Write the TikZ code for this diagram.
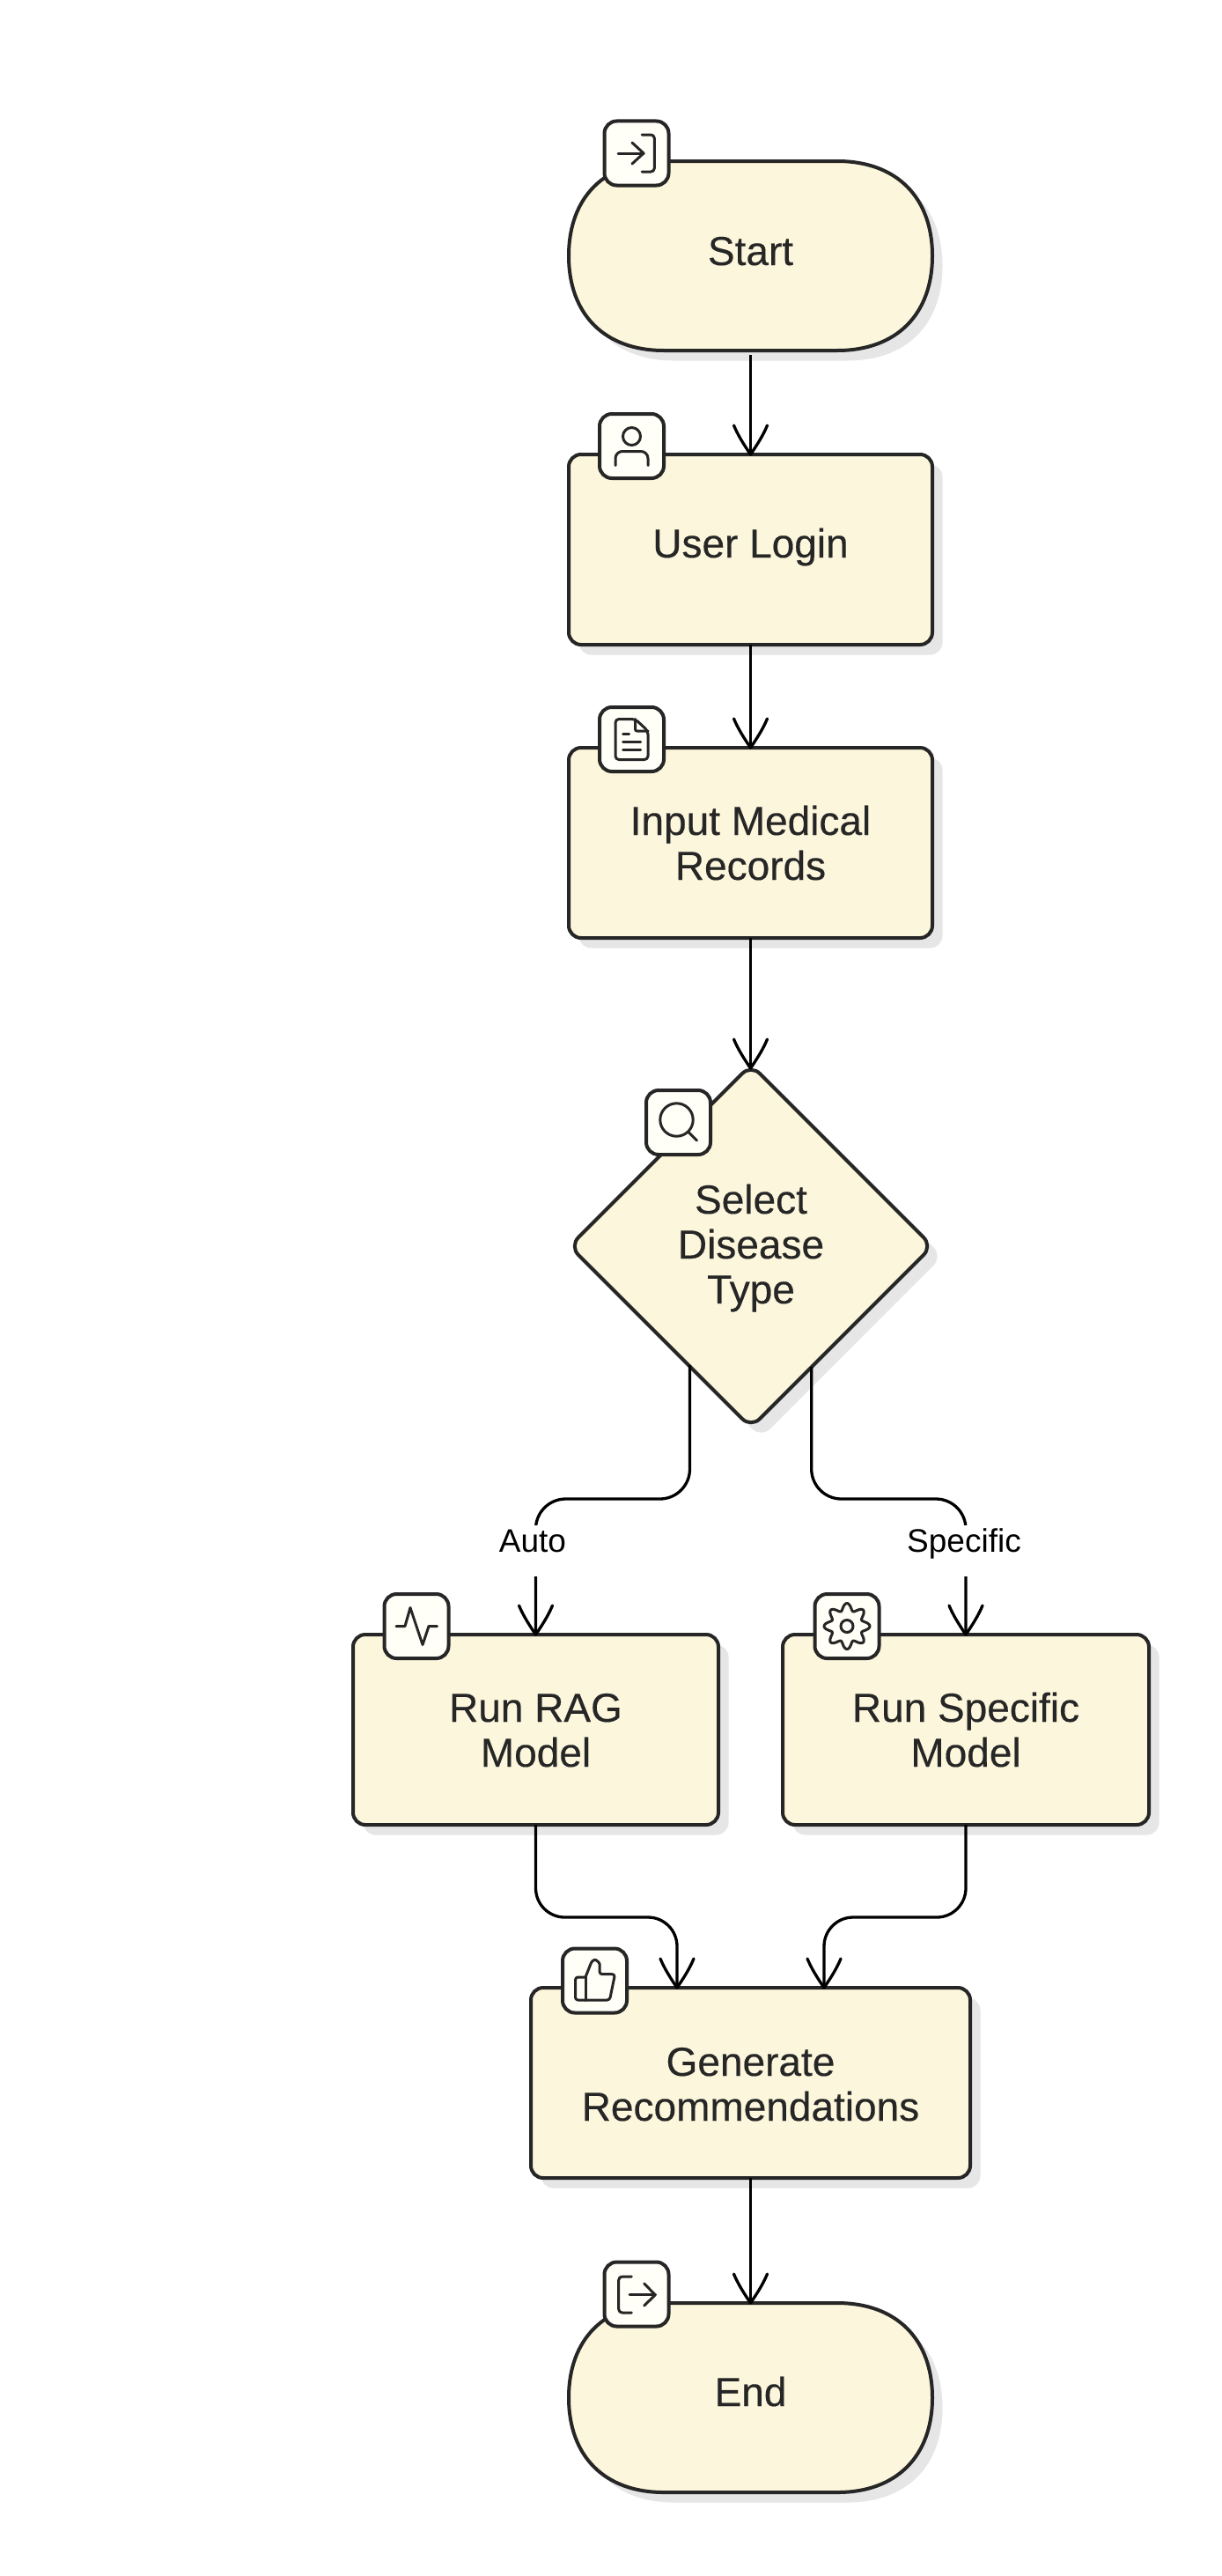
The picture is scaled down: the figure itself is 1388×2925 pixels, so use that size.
\documentclass[tikz,border=0pt]{standalone}
\usepackage{fontspec}
\setmainfont{Liberation Sans}
\newfontface\nodeface{Liberation Sans}[RawFeature={embolden=0.3}]
\usetikzlibrary{arrows.meta,shapes.geometric,shadows,calc}
\definecolor{boxfill}{HTML}{FCF6DC}
\definecolor{iconfill}{HTML}{FFFEF7}
\definecolor{inkc}{HTML}{262626}
\definecolor{shadec}{HTML}{E6E6E6}
\pgfdeclarearrow{
  name=OpenVee,
  setup code={
    \pgfarrowssettipend{0pt}
    \pgfarrowssetlineend{-1pt}
    \pgfarrowssetvisualbackend{-33pt}
    \pgfarrowssetbackend{-33pt}
    \pgfarrowshullpoint{0pt}{0pt}
    \pgfarrowshullpoint{-33pt}{19pt}
    \pgfarrowshullpoint{-33pt}{-19pt}
  },
  drawing code={
    \pgfsetlinewidth{3.3pt}
    \pgfsetdash{}{0pt}
    \pgfsetroundcap
    \pgfsetroundjoin
    \pgfpathmoveto{\pgfpoint{-33pt}{19pt}}
    \pgfpathcurveto{\pgfpoint{-22pt}{14.5pt}}{\pgfpoint{-11pt}{7.5pt}}{\pgfpointorigin}
    \pgfpathcurveto{\pgfpoint{-11pt}{-7.5pt}}{\pgfpoint{-22pt}{-14.5pt}}{\pgfpoint{-33pt}{-19pt}}
    \pgfusepathqstroke
  }
}
\tikzset{
  boxnode/.style={rectangle,draw=inkc,fill=boxfill,line width=4pt,rounded corners=14pt,
    minimum width=#1,minimum height=216pt,inner sep=0pt,outer sep=0pt,
    general shadow={shadow xshift=11.5pt,shadow yshift=-11.5pt,fill=shadec}},
  decnode/.style={diamond,aspect=1,draw=inkc,fill=boxfill,line width=4pt,rounded corners=14pt,
    minimum width=412pt,minimum height=412pt,inner sep=0pt,outer sep=0pt,
    general shadow={shadow xshift=11.5pt,shadow yshift=-11.5pt,fill=shadec}},
  termnode/.style={rectangle,minimum width=413pt,minimum height=215pt,inner sep=0pt,outer sep=0pt},
  termline/.style={draw=inkc,fill=boxfill,line width=4pt},
  iconbox/.style={rectangle,draw=inkc,fill=iconfill,line width=4pt,rounded corners=14pt,
    minimum width=73pt,minimum height=73pt,inner sep=0pt,outer sep=0pt},
  glyph/.style={draw=inkc,line width=3pt,line cap=round,line join=round},
  conn/.style={draw=black,line width=3.3pt,-OpenVee},
  txt/.style={text=inkc,font=\nodeface\fontsize{46}{51}\selectfont,align=center,inner sep=0pt,outer sep=0pt},
  edgelabel/.style={text=black,fill=white,font=\fontsize{37}{40}\selectfont,inner sep=0pt,outer sep=0pt,inner xsep=3pt}
}
\def\termpath{(-98.5,-107.5) -- (98.5,-107.5)
  .. controls (165.5,-107.5) and (206.5,-66.7) .. (206.5,0)
  .. controls (206.5,66.7) and (165.5,107.5) .. (98.5,107.5)
  -- (-98.5,107.5)
  .. controls (-165.5,107.5) and (-206.5,66.7) .. (-206.5,0)
  .. controls (-206.5,-66.7) and (-165.5,-107.5) .. (-98.5,-107.5) -- cycle}
\begin{document}
\begin{tikzpicture}[x=1pt,y=-1pt]
\useasboundingbox (0,0) rectangle (1388,2925);
\fill[white] (0,0) rectangle (1388,2925);

% terminator outlines
\begin{scope}[shift={(852.5,290.5)}]
  \fill[shadec,shift={(11.5,11.5)}] \termpath;
  \path[termline] \termpath;
\end{scope}
\begin{scope}[shift={(852.5,2722.5)}]
  \fill[shadec,shift={(11.5,11.5)}] \termpath;
  \path[termline] \termpath;
\end{scope}

% nodes
\node[termnode] (start) at (852.5,290.5) {};
\node[boxnode=413pt] (login) at (852.5,624) {};
\node[boxnode=413pt] (input) at (852.5,957) {};
\node[decnode] (dec) at (853,1415) {};
\node[boxnode=415pt] (rag) at (608.5,1964) {};
\node[boxnode=416pt] (spec) at (1097,1964) {};
\node[boxnode=499pt] (gen) at (852.5,2365) {};
\node[termnode] (end) at (852.5,2722.5) {};

% connector ends
\coordinate (decL) at (783.5,1550);
\coordinate (decR) at (921.7,1552);
\coordinate (splitY) at (852.5,1702);
\coordinate (mergeY) at (852.5,2177);
\coordinate (genL) at (769,2257);
\coordinate (genR) at (936,2257);

% connectors
\draw[conn,shorten <=5pt] (start.south) -- (login.north);
\draw[conn] (login.south) -- (input.north);
\draw[conn] (input.south) -- (852.5,1213);
\draw[conn,rounded corners=34pt] (decL) -- (decL |- splitY) -- (rag.north |- splitY) -- (rag.north);
\draw[conn,rounded corners=34pt] (decR) -- (decR |- splitY) -- (spec.north |- splitY) -- (spec.north);
\draw[conn,rounded corners=33pt] (rag.south) -- (rag.south |- mergeY) -- (genL |- mergeY) -- (genL);
\draw[conn,rounded corners=33pt] (spec.south) -- (spec.south |- mergeY) -- (genR |- mergeY) -- (genR);
\draw[conn] (gen.south) -- (end.north);

% edge labels
\node[edgelabel,text height=30pt,text depth=28pt,anchor=base] (lauto) at (605,1762) {Auto};
\node[edgelabel,text height=30pt,text depth=28pt,anchor=base] (lspec) at (1095,1762) {Specific};

% texts (anchor=base is the last line's baseline)
\node[txt,anchor=base] (tstart) at (852.5,301) {Start};
\node[txt,anchor=base] (tlogin) at (852.5,633) {User Login};
\node[txt,anchor=base] (tinput) at (852.5,999) {Input Medical\\Records};
\node[txt,anchor=base] (tdec) at (853,1480) {Select\\Disease\\Type};
\node[txt,anchor=base] (trag) at (608.5,2006) {Run RAG\\Model};
\node[txt,anchor=base] (tspec) at (1097,2006) {Run Specific\\Model};
\node[txt,anchor=base] (tgen) at (852.5,2408) {Generate\\Recommendations};
\node[txt,anchor=base] (tend) at (852.5,2732) {End};

% icons
\node[iconbox] (istart) at (723,174) {};
\begin{scope}[shift={(723,174)}]
  \draw[glyph] (-21,0) -- (8,0);
  \draw[glyph] (-5,-12) -- (8,0) -- (-5,12);
  \draw[glyph,rounded corners=4pt] (6,-21) -- (20.3,-21) -- (20.3,21) -- (6,21);
\end{scope}
\node[iconbox] (ilogin) at (717.5,506.5) {};
\begin{scope}[shift={(717.5,506.5)}]
  \draw[glyph] (0,-11) circle (10);
  \draw[glyph,rounded corners=8pt] (-18.5,22) -- (-18.5,6) -- (18.5,6) -- (18.5,22);
\end{scope}
\node[iconbox] (iinput) at (717.5,839.5) {};
\begin{scope}[shift={(717.5,839.5)}]
  \draw[glyph,rounded corners=4pt] (4,-23) -- (-18.5,-23) -- (-18.5,23) -- (18.5,23) -- (18.5,-9.5) -- cycle;
  \draw[glyph,rounded corners=2pt] (4,-23) -- (4,-9.5) -- (18.5,-9.5);
  \draw[glyph] (-10,-6) -- (-3,-6);
  \draw[glyph] (-10,3) -- (10,3);
  \draw[glyph] (-10,12) -- (10,12);
\end{scope}
\node[iconbox] (idec) at (770.5,1274.5) {};
\begin{scope}[shift={(770.5,1274.5)}]
  \draw[glyph] (-2,-3) circle (18.7);
  \draw[glyph] (12,11.5) -- (21,20.5);
\end{scope}
\node[iconbox] (irag) at (473,1846.5) {};
\begin{scope}[shift={(473,1846.5)}]
  \draw[glyph] (-23,0) -- (-13,0) -- (-7,-21) -- (7,21) -- (14,0) -- (23.5,0);
\end{scope}
\node[iconbox] (ispec) at (962,1846.5) {};
\begin{scope}[shift={(962,1846.5)}]
  \draw[glyph] (0,0) circle (7);
  \draw[glyph] plot[domain=0:360,samples=145,smooth cycle] (\x:{22+4*cos(8*\x)});
\end{scope}
\node[iconbox] (igen) at (675.5,2249) {};
\begin{scope}[shift={(675.5,2249)}]
  \draw[glyph,rounded corners=3pt] (-10.5,-4) -- (-22,-4) -- (-22,22) -- (-10.5,22);
  \draw[glyph] (-10.5,22) -- (-10.5,-4);
  \draw[glyph,rounded corners=3pt] (-10.5,-4) -- (-3,-23) .. controls (1,-24) and (5.5,-21) .. (5.5,-16) -- (5.5,-7.3) -- (23,-7.3) -- (17,22) -- (-10.5,22);
\end{scope}
\node[iconbox] (iend) at (723,2605) {};
\begin{scope}[shift={(723,2605)}]
  \draw[glyph,rounded corners=4pt] (-5.7,-20) -- (-20.3,-20) -- (-20.3,21) -- (-5.7,21);
  \draw[glyph] (-8,0.7) -- (21.3,0.7);
  \draw[glyph] (8.7,-12) -- (21.3,0.7) -- (8.7,13);
\end{scope}
\end{tikzpicture}
\end{document}
